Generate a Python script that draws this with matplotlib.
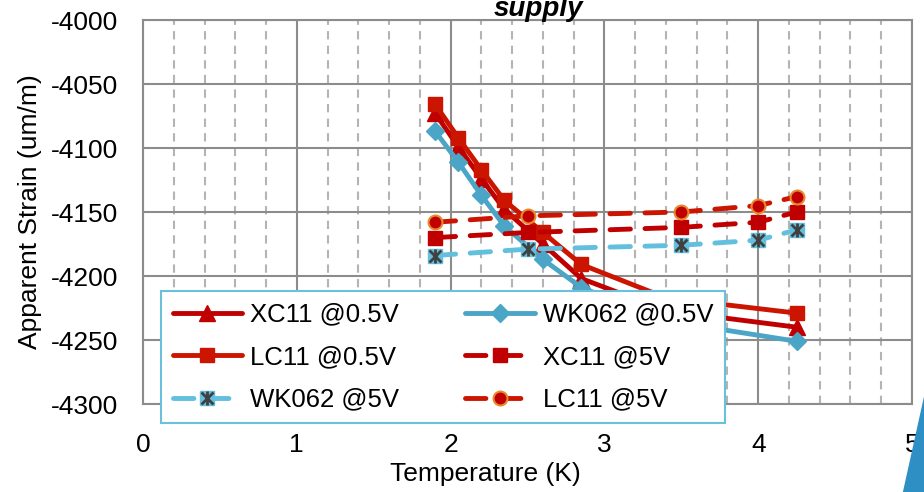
import matplotlib
matplotlib.use("Agg")
import matplotlib.pyplot as plt
from matplotlib.patches import Polygon
from matplotlib.ticker import MultipleLocator

plt.rcParams['font.family'] = ['Liberation Sans', 'DejaVu Sans']
plt.rcParams['axes.unicode_minus'] = False

# data
x_05 = [1.9, 2.05, 2.2, 2.35, 2.6, 2.85, 3.4, 4.25]
xc11_05 = [-4073, -4099, -4124, -4148, -4175, -4202, -4227, -4240]
wk062_05 = [-4087, -4111, -4137, -4161, -4187, -4209, -4235, -4251]
lc11_05 = [-4066, -4092, -4117, -4141, -4166, -4191, -4217, -4229]

x_5 = [1.9, 2.5, 3.5, 4.0, 4.25]
xc11_5 = [-4170, -4166, -4162, -4158, -4150]
wk062_5 = [-4184, -4179, -4176, -4172, -4164]
lc11_5 = [-4158, -4153, -4150, -4145, -4138]

dark_red = '#C00000'
red = '#CC1500'
steel = '#4BA5C6'
light_blue = '#62BFDD'
dash = (0, (4.2, 3.0))

fig = plt.figure(figsize=(9.24, 4.92), dpi=100)
ax = fig.add_axes([143/924, 1-404/492, 769/924, 384/492])

lw = 3.5
h1, = ax.plot(x_05, xc11_05, color=dark_red, lw=lw, marker='^', ms=11,
              solid_capstyle='round', label='XC11 @0.5V')
h2, = ax.plot(x_05, wk062_05, color=steel, lw=lw, marker='D', ms=9,
              solid_capstyle='round', label='WK062 @0.5V')
h3, = ax.plot(x_05, lc11_05, color=red, lw=lw, marker='s', ms=10,
              solid_capstyle='round', label='LC11 @0.5V')
h4, = ax.plot(x_5, xc11_5, color=dark_red, lw=lw, ls=dash, dash_capstyle='round',
              marker='s', ms=10, label='XC11 @5V')
h5, = ax.plot(x_5, wk062_5, color=light_blue, lw=lw, ls=dash, dash_capstyle='round',
              marker='s', ms=10, label='WK062 @5V')
h5x, = ax.plot(x_5, wk062_5, ls='none', marker='x', ms=9, mew=2, color='#404040')
h5v, = ax.plot(x_5, wk062_5, ls='none', marker='|', ms=10, mew=2, color='#404040')
h6, = ax.plot(x_5, lc11_5, color=red, lw=lw, ls=dash, dash_capstyle='round',
              marker='o', ms=10, mfc=dark_red, mec='#E8892B', mew=1.5, label='LC11 @5V')

ax.set_xlim(0, 5)
ax.set_ylim(-4300, -4000)
ax.xaxis.set_major_locator(MultipleLocator(1))
ax.xaxis.set_minor_locator(MultipleLocator(0.2))
ax.yaxis.set_major_locator(MultipleLocator(50))
ax.set_axisbelow(True)
ax.grid(which='major', color='#8C8C8C', lw=1.5)
ax.grid(which='minor', axis='x', color='#B4B4B4', lw=1.5, ls=(0, (4, 3)))
for s in ax.spines.values():
    s.set_color('#8C8C8C')
    s.set_linewidth(1.5)
ax.tick_params(axis='both', which='both', length=0, labelsize=19)
ax.tick_params(axis='x', pad=21)
ax.tick_params(axis='y', pad=18)

fig.text(30/924, 1-212/492, 'Apparent Strain (um/m)', rotation=90,
         ha='center', va='center', fontsize=19)
fig.text(485/924, 1-474/492, 'Temperature (K)', ha='center', va='center', fontsize=19)
fig.text(538/924, 1-16/492, 'supply', ha='center', va='baseline', fontsize=20,
         fontweight='bold', fontstyle='italic')

handles = [h1, h3, (h5, h5x, h5v), h2, h4, h6]
labels = ['XC11 @0.5V', 'LC11 @0.5V', 'WK062 @5V', 'WK062 @0.5V', 'XC11 @5V', 'LC11 @5V']
leg = ax.legend(handles, labels, ncol=2, loc='upper left',
                bbox_to_anchor=(161/924, 1-291/492), bbox_transform=fig.transFigure,
                borderaxespad=0, fontsize=18.5, fancybox=False, framealpha=1,
                edgecolor='#6BC0DC', handlelength=2.7, handletextpad=0.3,
                columnspacing=2.6, labelspacing=0.72, borderpad=0.45)
leg.get_frame().set_linewidth(1.5)
leg.set_zorder(10)

fig.patches.append(Polygon([(903/924, 0), (1, 0), (1, 1-397/492)], closed=True,
                           transform=fig.transFigure, color='#2E8FC4'))

fig.savefig('out.png', dpi=100)
